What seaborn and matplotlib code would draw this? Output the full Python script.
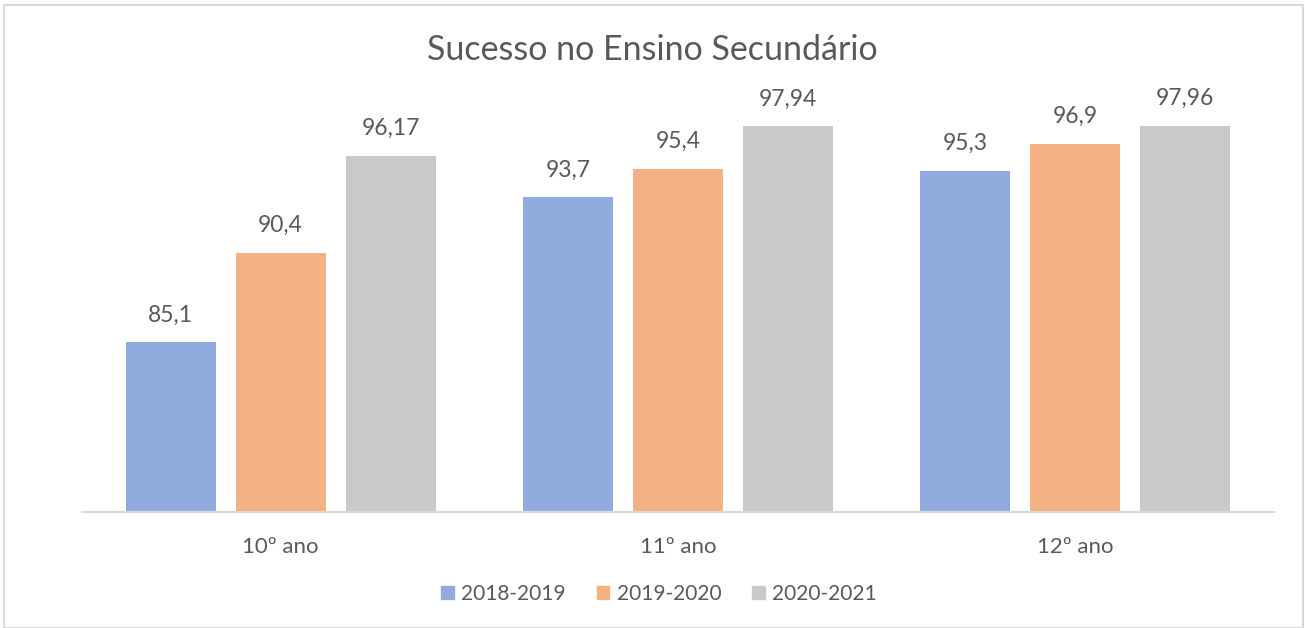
import matplotlib
matplotlib.use("Agg")
import matplotlib.pyplot as plt
import seaborn as sns
import pandas as pd
from matplotlib.patches import Rectangle

categories = ["10º ano", "11º ano", "12º ano"]
series = ["2018-2019", "2019-2020", "2020-2021"]
v2018 = [85.1, 93.7, 95.3]
v2019 = [90.4, 95.4, 96.9]
v2020 = [96.17, 97.94, 97.96]
labels2018 = ["85,1", "93,7", "95,3"]
labels2019 = ["90,4", "95,4", "96,9"]
labels2020 = ["96,17", "97,94", "97,96"]

colors = ["#8FAADC", "#F4B183", "#C9C9C9"]
txt = "#595959"

rows = []
for s, vals in zip(series, [v2018, v2019, v2020]):
    for c, v in zip(categories, vals):
        rows.append({"cat": c, "serie": s, "val": v})
df = pd.DataFrame(rows)

sns.set_theme(style="white")
plt.rcParams["font.family"] = ["Lato", "DejaVu Sans"]

fig = plt.figure(figsize=(13.05, 6.28), dpi=100)
ax = fig.add_axes([82/1305, 1-512/628, (1274-82)/1305, (512-91.5)/628])

sns.barplot(data=df, x="cat", y="val", hue="serie", order=categories,
            hue_order=series, palette=colors, width=0.83, gap=0.18,
            saturation=1, ax=ax, legend=False, edgecolor="none")

ax.set_ylim(75, 100)
ax.set_xlim(-0.5, 2.5)
ax.set_yticks([])
ax.set_xlabel("")
ax.set_ylabel("")
for sp in ["top", "right", "left"]:
    ax.spines[sp].set_visible(False)
ax.spines["bottom"].set_color("#D9D9D9")
ax.spines["bottom"].set_linewidth(1.5)
ax.tick_params(axis="x", length=0, pad=18, labelsize=16, labelcolor=txt)

for cont, labs in zip(ax.containers, [labels2018, labels2019, labels2020]):
    ax.bar_label(cont, labels=labs, padding=12, fontsize=16.5, color=txt)

fig.text(0.5, 1-50/628, "Sucesso no Ensino Secundário", ha="center", va="center",
         fontsize=24.5, color=txt)

handles = [Rectangle((0, 0), 1, 1, color=c) for c in colors]
fig.legend(handles, series, loc="center", bbox_to_anchor=(0.505, 1-594/628),
           ncol=3, frameon=False, fontsize=15, labelcolor=txt,
           handlelength=0.6, handleheight=0.6, handletextpad=0.35, columnspacing=1.5)

fig.patches.append(Rectangle((4/1305, 0.0), 1299/1305, 1-5/628, transform=fig.transFigure,
                             fill=False, edgecolor="#D9D9D9", linewidth=1.5))

fig.savefig("out.png", dpi=100)
